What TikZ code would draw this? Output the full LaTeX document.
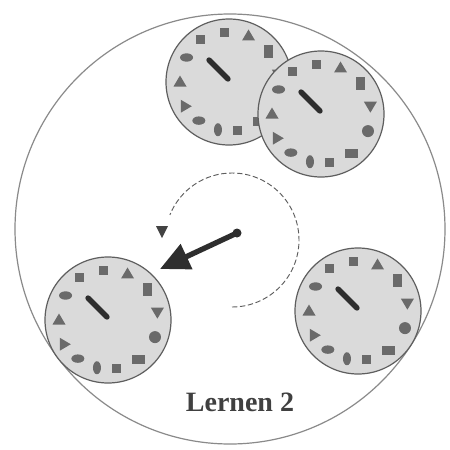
\documentclass[tikz,border=0pt]{standalone}
\usepackage{fontspec}
\setmainfont{Liberation Serif}
\usetikzlibrary{arrows.meta,calc}
\definecolor{diskfill}{HTML}{DADADA}
\definecolor{diskedge}{HTML}{5E5E5E}
\definecolor{symb}{HTML}{6A6A6A}
\definecolor{handc}{HTML}{2E2E2E}
\definecolor{ringc}{HTML}{8A8A8A}
\tikzset{
  disk/.style={fill=diskfill, draw=diskedge, line width=0.9pt},
  sym/.style={fill=symb, draw=none},
  hand/.style={draw=handc, line width=4pt, line cap=round},
  pics/clock/.style={code={
    \path[disk] (0,0) circle (63);
    \draw[hand] (-1,-3) -- (-20,-22);
    % 13 symbols, clockwise from top
    \path[sym] (-95:50) ++(-4.5,-4.5) rectangle ++(9,9);
    \path[sym] (-67:50) ++(0,-6.5) -- ++(6.5,11) -- ++(-13,0) -- cycle;
    \path[sym] (-37:50) ++(-4.5,-6.5) rectangle ++(9,13);
    \path[sym] (-9:50) ++(0,6.5) -- ++(6.5,-11) -- ++(-13,0) -- cycle;
    \path[sym] (20:50) circle (6);
    \path[sym] (53:50) ++(-6.5,-4.5) rectangle ++(13,9);
    \path[sym] (80:49) ++(-4.5,-4.5) rectangle ++(9,9);
    \path[sym] (103:49) ellipse (4 and 6.5);
    \path[sym] (128:49) ellipse (6.5 and 4.2);
    \path[sym] (151:50) ++(6.5,0) -- ++(-11,-6.5) -- ++(0,13) -- cycle;
    \path[sym] (180:49) ++(0,-6.5) -- ++(6.5,11) -- ++(-13,0) -- cycle;
    \path[sym] (-150:49) ellipse (6.5 and 4.2);
    \path[sym] (-124:51) ++(-4.5,-4.5) rectangle ++(9,9);
  }}
}
\begin{document}
\begin{tikzpicture}[x=0.75pt,y=-0.75pt]
\useasboundingbox (0,0) rectangle (450,450);
\fill[white] (0,0) rectangle (450,450);
% outer ring
\draw[ringc, line width=0.9pt] (230,229) circle (215);
% disks
\pic at (229,82) {clock};
\pic at (321,114) {clock};
\pic at (108,320) {clock};
\pic at (358,311) {clock};
% dashed rotation arc
\coordinate (rc) at (232,240);
\draw[diskedge, line width=0.7pt, dash pattern=on 4pt off 2pt]
  ($(rc)+(90:67)$) arc[start angle=90, end angle=-158, radius=67];
\coordinate (rtip) at (162,238);
\fill[handc!90] (rtip) -- ++(-6,-12) -- ++(12,0) -- cycle;
% thick arrow
\coordinate (pivot) at (237,233);
\coordinate (tip) at (160,269);
\fill[handc] (pivot) circle (4.5);
\draw[handc, line width=4pt, -{Triangle[length=22pt,width=20pt]}] (pivot) -- (tip);
% label
\node[font=\fontsize{21}{24}\selectfont\bfseries, text=black!75] (lab) at (240,402) {Lernen 2};
\end{tikzpicture}
\end{document}
